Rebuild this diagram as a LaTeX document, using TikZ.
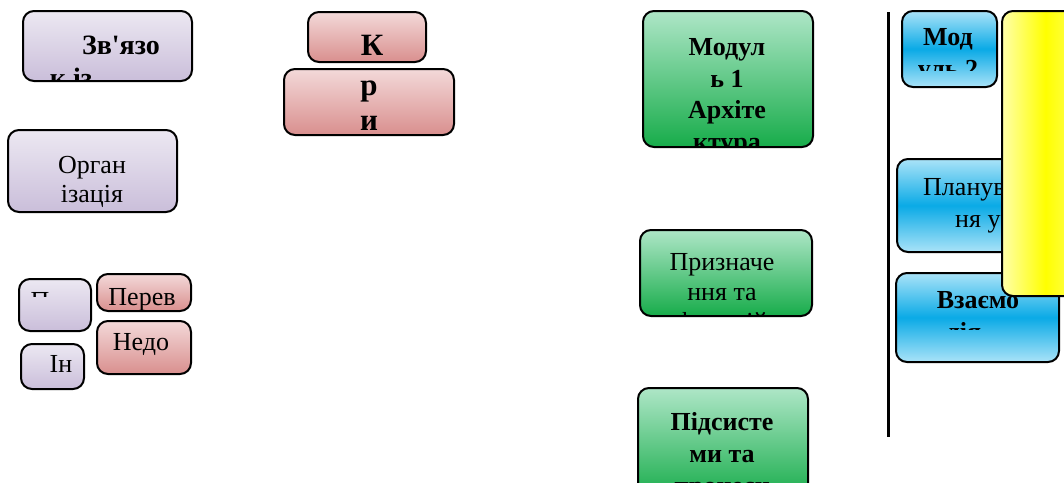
\documentclass[tikz,border=0pt]{standalone}
\usepackage{fontspec}
\newfontfamily\tnr{Liberation Serif}
\definecolor{pTop}{HTML}{ECE8F2}
\definecolor{pBot}{HTML}{CABEDA}
\definecolor{rTop}{HTML}{F3D9D9}
\definecolor{rBot}{HTML}{D98F8E}
\definecolor{gTop}{HTML}{AEE6C7}
\definecolor{gBot}{HTML}{17AC4A}
\definecolor{bEdge}{HTML}{AAE3F8}
\definecolor{bMid}{HTML}{0AAAE6}
\definecolor{yEdge}{HTML}{FFFFAA}
\definecolor{yMid}{HTML}{FFFF00}
\tikzset{
  box/.style={draw=black, line width=2pt, rounded corners=11pt, inner sep=0pt, outer sep=0pt, anchor=north west},
  pbx/.style={box, top color=pTop, bottom color=pBot},
  rbx/.style={box, top color=rTop, bottom color=rBot},
  gbx/.style={box, top color=gTop, bottom color=gBot},
  bbx/.style={box, top color=bEdge, bottom color=bEdge, middle color=bMid},
  ybx/.style={box, left color=yEdge, right color=yEdge!70!yMid, middle color=yMid},
  lbl/.style={anchor=base, inner sep=0pt, font=\tnr\fontsize{26}{30}\selectfont},
  blbl/.style={anchor=base, inner sep=0pt, font=\tnr\bfseries\fontsize{26}{30}\selectfont},
  kbl/.style={anchor=base, inner sep=0pt, font=\tnr\bfseries\fontsize{31}{35}\selectfont},
}
\newcommand\bx[6]{\node[#1, minimum width={#4-#2-2}, minimum height={#5-#3-2}] (#6) at (#2+1,#3+1) {};}
\begin{document}
\begin{tikzpicture}[x=1pt,y=-1pt]
\clip (0,0) rectangle (1064,482);
\fill[white] (0,0) rectangle (1064,482);
% left column
\bx{pbx}{22}{10}{193}{82}{zv}
\begin{scope}
\clip (22,10) rectangle (193,81);
\node[blbl, font=\tnr\bfseries\fontsize{28}{32}\selectfont] (zv1) at (121,54) {Зв'язо};
\node[blbl, font=\tnr\bfseries\fontsize{28}{32}\selectfont] (zv2) at (71,87) {к із};
\end{scope}
\bx{pbx}{7}{129}{178}{213}{org}
\node[lbl] (org1) at (92,173) {Орган};
\node[lbl] (org2) at (92,202) {ізація};
\bx{rbx}{307}{11}{427}{63}{ka}
\node[kbl] (ka1) at (372,55) {К};
\bx{rbx}{283}{68}{455}{136}{kb}
\node[kbl] (kb1) at (369,95) {р};
\node[kbl] (kb2) at (369,130) {и};
\bx{pbx}{18}{278}{92}{332}{pb}
\begin{scope}
\clip (18,278) rectangle (92,296);
\node[lbl] (pb1) at (40,309) {П};
\end{scope}
\bx{pbx}{20}{343}{85}{390}{inb}
\node[lbl] (in1) at (61,372) {Ін};
\bx{rbx}{96}{273}{192}{312}{pe}
\node[lbl] (pe1) at (142,305) {Перев};
\bx{rbx}{96}{320}{192}{375}{ne}
\node[lbl] (ne1) at (141,350) {Недо};
% green column
\bx{gbx}{642}{10}{814}{148}{ga}
\begin{scope}
\clip (642,10) rectangle (814,147);
\node[blbl] (ga1) at (727,55) {Модул};
\node[blbl] (ga2) at (727,87) {ь 1};
\node[blbl] (ga3) at (727,118) {Архіте};
\node[blbl] (ga4) at (727,150) {ктура};
\end{scope}
\bx{gbx}{639}{229}{813}{317}{gb}
\begin{scope}
\clip (639,229) rectangle (813,315);
\node[lbl] (gb1) at (722,270) {Призначе};
\node[lbl] (gb2) at (722,300) {ння та};
\node[lbl] (gb3) at (722,330) {функцій};
\end{scope}
\bx{gbx}{637}{387}{809}{500}{gc}
\begin{scope}
\clip (637,387) rectangle (809,500);
\node[blbl] (gc1) at (722,430) {Підсисте};
\node[blbl] (gc2) at (722,462) {ми та};
\node[blbl] (gc3) at (722,494) {процеси};
\end{scope}
% right column
\coordinate (vt) at (888,12);
\coordinate (vb) at (888,437);
\draw[line width=3pt] (vt) -- (vb);
\bx{bbx}{901}{10}{998}{88}{ma}
\begin{scope}
\clip (901,10) rectangle (998,70);
\node[blbl] (ma1) at (948,45) {Мод};
\node[blbl] (ma2) at (948,77) {уль 2};
\end{scope}
\bx{bbx}{896}{158}{1075}{253}{pl}
\node[lbl, anchor=base west] (pl1) at (923,195) {Планув};
\node[lbl, anchor=base west] (pl2) at (955,227) {ня у};
\bx{bbx}{895}{272}{1060}{363}{vz}
\begin{scope}
\clip (895,272) rectangle (1060,329);
\node[blbl] (vz1) at (978,308) {Взаємо};
\node[blbl] (vz2) at (964,340) {дія};
\end{scope}
\bx{ybx}{1001}{10}{1090}{297}{ye}
\end{tikzpicture}
\end{document}
